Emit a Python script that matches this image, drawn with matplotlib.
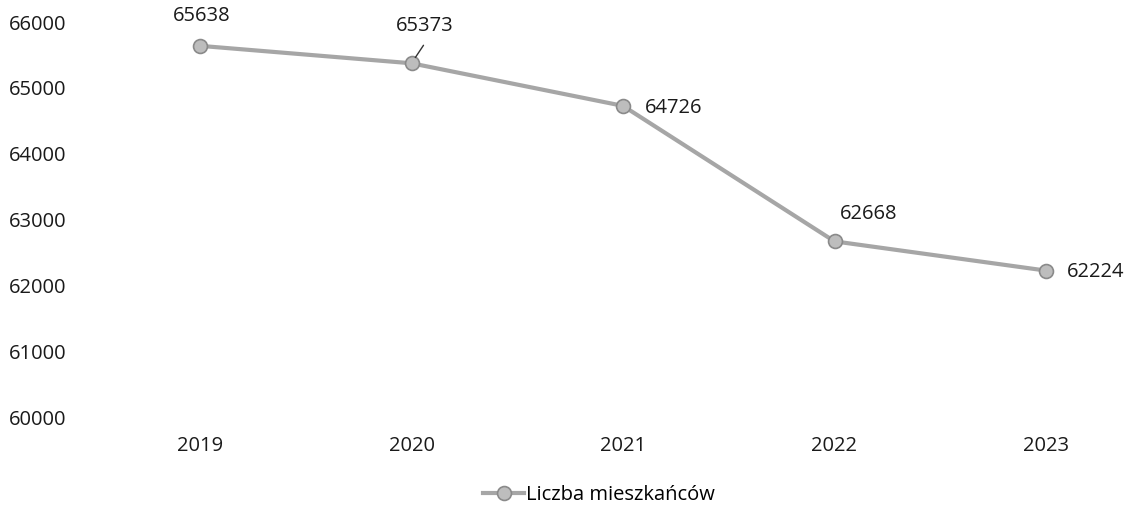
import matplotlib.pyplot as plt

# data
years = ['2019', '2020', '2021', '2022', '2023']
residents = [65638, 65373, 64726, 62668, 62224]
series_name = 'Liczba mieszkańców'
y_ticks = [60000, 61000, 62000, 63000, 64000, 65000, 66000]

plt.rcParams['font.family'] = ['Open Sans', 'DejaVu Sans']
FS = 14.5

fig = plt.figure(figsize=(11.27, 5.08), dpi=100)
ax = fig.add_axes([90 / 1127, 1 - 417 / 508, 1 - 90 / 1127, (417 - 22) / 508])

x = list(range(len(years)))
line, = ax.plot(x, residents, color='#a6a6a6', lw=3, marker='o', ms=10,
                markerfacecolor='#bdbdbd', markeredgecolor='#8a8a8a', mew=1.2,
                label=series_name)

# value labels (offsets in pixels from the marker, as in the picture)
offsets = [(2, 30), (13, 37), (22, -2), (34, 27), (21, -1)]
aligns = ['center', 'center', 'left', 'center', 'left']
for xi, v, (dx, dy), ha in zip(x, residents, offsets, aligns):
    ax.annotate(str(v), (xi, v), xytext=(dx, dy), textcoords='offset pixels',
                ha=ha, va='center', fontsize=FS, color='#1a1a1a')
# short leader line for 2020
ax.annotate('', (x[1], residents[1]), xytext=(12, 18), textcoords='offset pixels',
            arrowprops=dict(arrowstyle='-', color='#333333', lw=1, shrinkA=0, shrinkB=5))

ax.set_xlim((90 - 200) / 211.5, (1127 - 200) / 211.5)
ax.set_ylim(60000, 66000)
ax.set_xticks(x)
ax.set_xticklabels(years)
ax.set_yticks(y_ticks)
for s in ax.spines.values():
    s.set_visible(False)
ax.tick_params(length=0, labelsize=FS, colors='#1a1a1a')
ax.tick_params(axis='x', pad=14)
for lab in ax.get_yticklabels():
    lab.set_horizontalalignment('left')
    lab.set_x(-76 / 1037)

fig.legend(handles=[line], loc='center', bbox_to_anchor=(599 / 1127, 1 - 495 / 508),
           frameon=False, fontsize=FS, handlelength=2.0, handletextpad=0.1,
           borderpad=0)

fig.savefig('out.png', dpi=100)
